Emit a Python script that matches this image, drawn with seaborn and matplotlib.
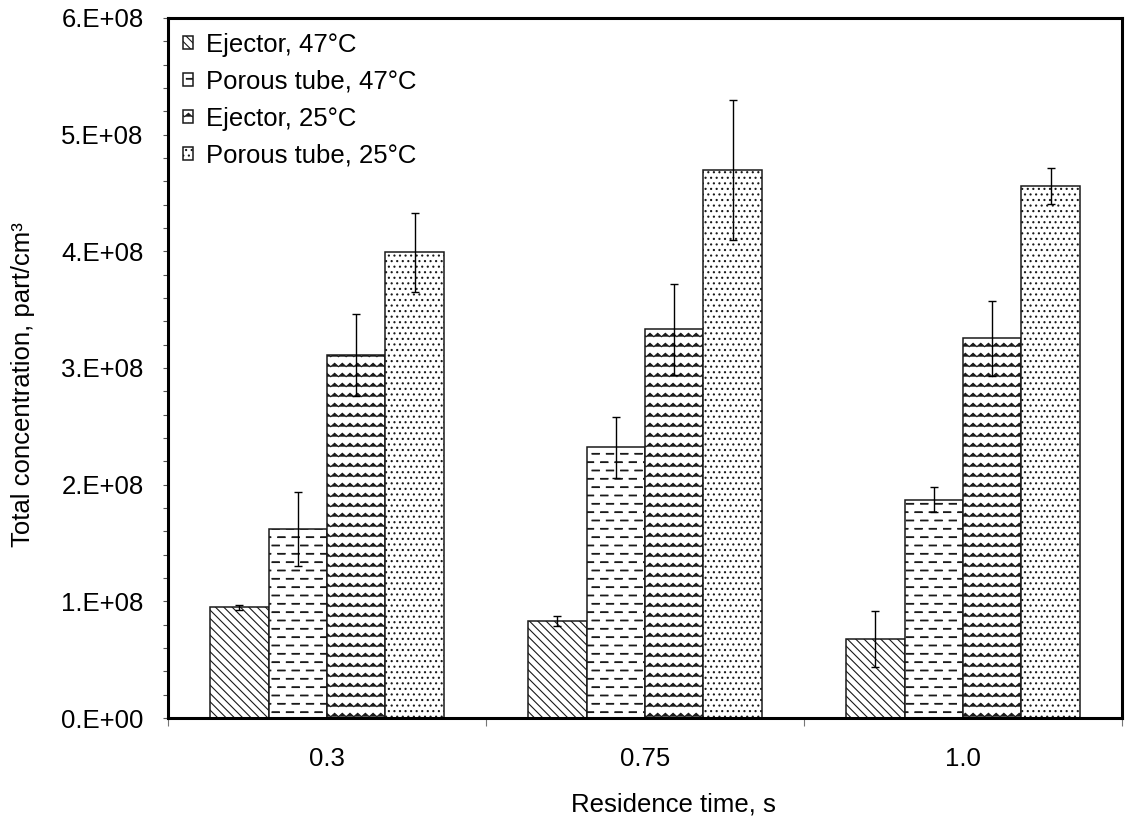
import numpy as np
import pandas as pd
import matplotlib
matplotlib.use("Agg")
import matplotlib.pyplot as plt
import matplotlib.hatch as mhatch
from matplotlib.path import Path
from matplotlib.ticker import MultipleLocator, FixedLocator
import seaborn as sns

# ---------------- data ----------------
categories = ["0.3", "0.75", "1.0"]
series_names = ["Ejector, 47°C", "Porous tube, 47°C", "Ejector, 25°C", "Porous tube, 25°C"]
ejector_47 = [0.95e8, 0.83e8, 0.675e8]
ejector_47_err = [0.02e8, 0.043e8, 0.24e8]
porous_47 = [1.62e8, 2.32e8, 1.87e8]
porous_47_err = [0.315e8, 0.26e8, 0.108e8]
ejector_25 = [3.11e8, 3.33e8, 3.255e8]
ejector_25_err = [0.352e8, 0.39e8, 0.322e8]
porous_25 = [3.99e8, 4.70e8, 4.56e8]
porous_25_err = [0.337e8, 0.60e8, 0.155e8]
ytick_values = [0, 1e8, 2e8, 3e8, 4e8, 5e8, 6e8]
ytick_labels = ["0.E+00", "1.E+08", "2.E+08", "3.E+08", "4.E+08", "5.E+08", "6.E+08"]
x_label = "Residence time, s"
y_label = "Total concentration, part/cm³"

values = [ejector_47, porous_47, ejector_25, porous_25]
errors = [ejector_47_err, porous_47_err, ejector_25_err, porous_25_err]
hatches = ["\\\\\\\\", "-", "|", "..."]


# ---------------- custom hatch patterns ----------------
class DashHatch(mhatch.HatchPatternBase):
    """Rows of short, bold dashes (replaces '-')."""
    def __init__(self, hatch, density):
        n = hatch.count('-')
        self.rows = 12 * n
        self.cols = 7
        self.num_vertices = self.rows * self.cols * 4

    def set_vertices_and_codes(self, vertices, codes):
        k = 0
        for r in range(self.rows):
            y = (r + 0.5) / self.rows
            off = 0.45 if r % 2 else 0.05
            for c in range(self.cols):
                x0 = (c + off) / self.cols
                x1 = x0 + 0.5 / self.cols
                for dy in (0.0, 0.007):
                    vertices[k] = (x0, y + dy)
                    vertices[k + 1] = (x1, y + dy)
                    codes[k] = Path.MOVETO
                    codes[k + 1] = Path.LINETO
                    k += 2


class WaveHatch(mhatch.HatchPatternBase):
    """Rows of zig-zag waves (replaces '|')."""
    def __init__(self, hatch, density):
        n = hatch.count('|')
        self.rows = 10 * n
        self.periods = 13
        self.pts = 2 * self.periods + 1
        self.num_vertices = self.rows * self.pts

    def set_vertices_and_codes(self, vertices, codes):
        if self.rows == 0:
            return
        amp = 0.17 / self.rows
        k = 0
        for r in range(self.rows):
            y = (r + 0.5) / self.rows
            for i in range(self.pts):
                x = i / (2 * self.periods)
                vertices[k] = (x, y + (amp if i % 2 else -amp))
                codes[k] = Path.MOVETO if i == 0 else Path.LINETO
                k += 1


mhatch._hatch_types[:] = [
    DashHatch if t is mhatch.HorizontalHatch else
    WaveHatch if t is mhatch.VerticalHatch else t
    for t in mhatch._hatch_types
]

# ---------------- style ----------------
plt.rcParams['font.family'] = ['Liberation Sans', 'DejaVu Sans']
plt.rcParams['hatch.linewidth'] = 0.8
FS = 18.5

# ---------------- frame ----------------
df = pd.DataFrame({
    "time": np.repeat([categories], len(series_names), axis=0).ravel(),
    "series": np.repeat(series_names, len(categories)),
    "conc": np.concatenate(values),
})

fig = plt.figure(figsize=(11.25, 8.27), dpi=100)
ax = fig.add_axes([168 / 1125, 1 - 718 / 827, (1122 - 168) / 1125, (718 - 18) / 827])

sns.barplot(data=df, x="time", y="conc", hue="series", order=categories,
            hue_order=series_names, palette={s: "white" for s in series_names},
            saturation=1, width=0.735, errorbar=None, edgecolor="black",
            linewidth=1.1, legend=False, ax=ax)

for cont, h, err in zip(ax.containers, hatches, errors):
    bars = sorted(cont.patches, key=lambda p: p.get_x())
    xs, ys = [], []
    for p in bars:
        p.set_hatch(h)
        p.set_edgecolor("#1a1a1a")
        xs.append(p.get_x() + p.get_width() / 2)
        ys.append(p.get_height())
    ax.errorbar(xs, ys, yerr=err, fmt="none", ecolor="black", elinewidth=1.0,
                capsize=2.6, capthick=1.0, zorder=5)

# axes limits and ticks
ax.set_xlim(-0.5, len(categories) - 0.5)
ax.set_ylim(0, 6e8)
ax.xaxis.set_major_locator(FixedLocator(np.arange(-0.5, len(categories), 1.0)))
ax.xaxis.set_major_formatter(plt.NullFormatter())
ax.xaxis.set_minor_locator(FixedLocator(np.arange(len(categories))))
ax.set_xticks(np.arange(len(categories)), categories, minor=True)
ax.tick_params(axis="x", which="major", direction="out", length=6, width=0.8,
               color="#777777")
ax.tick_params(axis="x", which="minor", length=0, pad=21, labelsize=FS)

ax.set_yticks(ytick_values, ytick_labels)
ax.yaxis.set_minor_locator(MultipleLocator(0.2e8))
ax.tick_params(axis="y", which="major", direction="out", length=3.5, width=0.8,
               color="#555555", pad=14, labelsize=FS)
ax.tick_params(axis="y", which="minor", direction="out", length=3.5, width=0.8,
               color="#555555")

for s in ax.spines.values():
    s.set_linewidth(2.2)
    s.set_color("black")

ax.set_xlabel(x_label, fontsize=FS)
ax.set_ylabel(y_label, fontsize=FS)
ax.xaxis.set_label_coords(0.530, -0.106)
ax.yaxis.set_label_coords(-0.139, 0.476)

ax.legend(ax.containers, series_names, loc="upper left", bbox_to_anchor=(0, 1),
          frameon=False, fontsize=FS, handlelength=0.4, handleheight=0.4,
          handletextpad=0.5, labelspacing=0.5, borderaxespad=0.18, borderpad=0.4)

fig.savefig("out.png", dpi=100)
